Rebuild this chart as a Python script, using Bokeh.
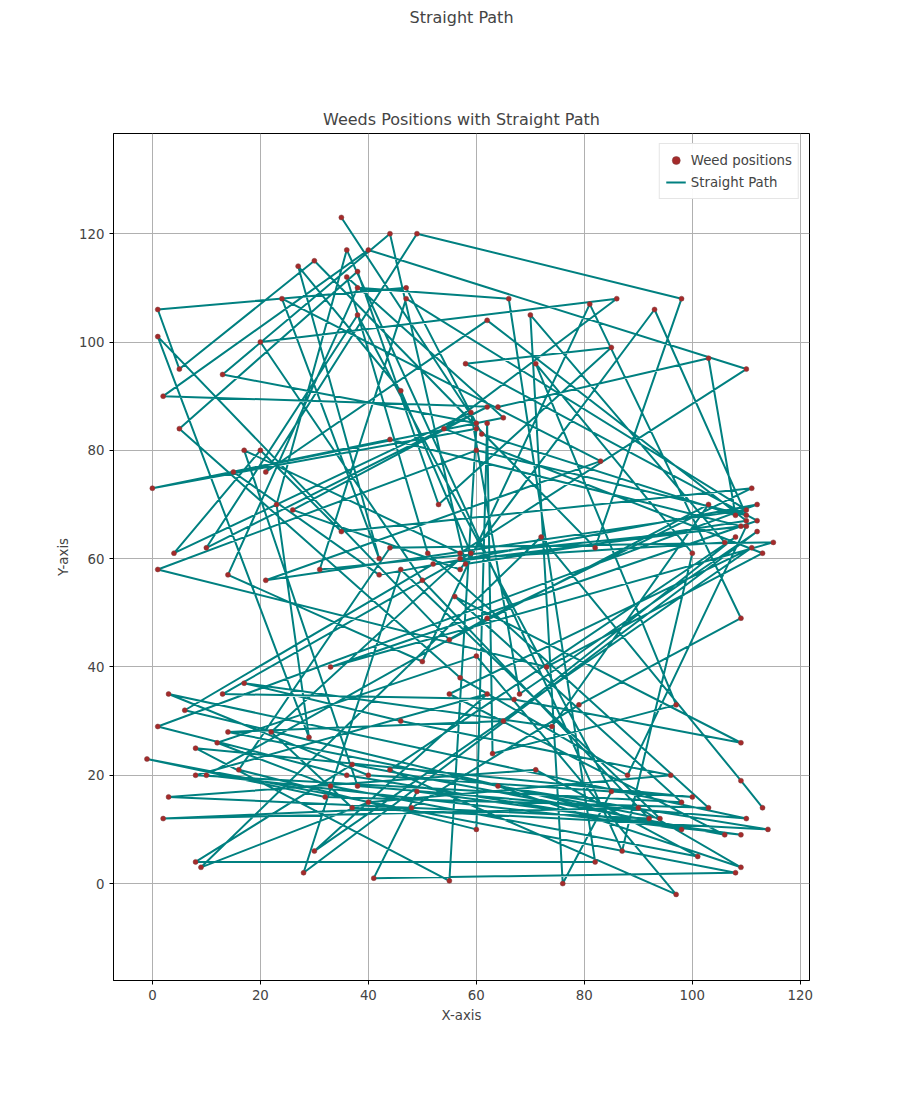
from bokeh.plotting import figure
from bokeh.models import Title, Legend, LegendItem
from bokeh.embed import file_html
from bokeh.resources import INLINE

# weed positions, in the order the path visits them
path_x = [35, 60, 13, 44, 58, 110, 62, 21, 49, 98, 82, 30, 5, 1, 47, 61, 108, 103, 64, 2,
          40, 110, 57, 17, 38, 110, 3, 40, 100, 8, 55, 60, 0, 44, 109, 52, 6, 98, 36, 1,
          112, 42, 15, 65, 36, 51, 103, 32, -1, 108, 41, 49, 109, 10, 62, 111, 35, 20, 4, 59,
          68, 112, 28, 46, 94, 14, 65, 108, 44, 97, 60, 12, 33, 101, 71, 3, 92, 50, 20, 86,
          54, 113, 73, 1, 60, 110, 93, 57, 26, 62, 10, 38, 85, 76, 70, 106, 57, 22, 37, 114,
          64, 109, 90, 2, 48, 79, 109, 81, 50, 14, 38, 66, 82, 8, 37, 106, 55, 111, 30, 62,
          8, 98, 56, 109, 67, 13, 59, 46, 27, 42, 24, 83, 21, 110, 47, 31, 110, 88, 57, 5,
          38, 53, 85, 58, 112, 33, 115, 44, 16, 60, 62, 63, 97, 71, 100, 87, 36, 23, 29, 1,
          55, 103, 74, 17, 46, 96, 40, 9, 72, 109, 113]
path_y = [123, 85, 94, 120, 59, 67, 104, 76, 120, 108, 62, 115, 95, 106, 110, 83, 68, 97, 88, 90,
          117, 95, 61, 80, 18, 12, 35, 20, 16, 25, 0.5, 84, 73, 82, 66, 59, 32, 10, 20, 29,
          70, 57, 76, 86, 112, 61, 14, 16, 23, 2, 1, 17, 9, 20, 49, 73, 65, 80, 61, 87,
          35, 65, 2, 58, 12, 28, 30, 64, 21, -2, 42, 26, 18, 5, 21, 16, 12, 56, 100, 108,
          84, 61, 40, 58, 80, 68, 106, 58, 69, 88, 62, 105, 17, 0, 105, 63, 60, 28, 14, 10,
          18, 3, 14, 12, 14, 33, 49, 107, 41, 57, 110, 108, 4, 4, 22, 9, 35, 62, 6, 35,
          20, 15, 53, 26, 34, 35, 61, 91, 114, 60, 108, 78, 56, 69, 108, 58, 66, 20, 38, 84,
          113, 70, 99, 96, 67, 40, 63, 62, 21, 10, 85, 24, 33, 96, 61, 6, 117, 70, 27, 101,
          45, 70, 29, 37, 30, 20, 15, 3, 64, 19, 14]

x_ticks = [0, 20, 40, 60, 80, 100, 120]
y_ticks = [0, 20, 40, 60, 80, 100, 120]

FONT = "DejaVu Sans"

p = figure(width=884, height=1080, output_backend="svg", toolbar_location=None,
           x_range=(-7.2, 121.7), y_range=(-17.9, 138.5),
           min_border_left=113, min_border_right=75, min_border_bottom=100,
           min_border_top=133)
p.title.text = "Straight Path"
p.title.align = "center"
p.title.text_font = FONT
p.title.text_font_size = "12pt"
p.title.text_font_style = "normal"

# panels added "above" stack outward from the plot
p.add_layout(Title(text="Weeds Positions with Straight Path", align="center", text_font=FONT,
                   text_font_size="12pt", text_font_style="normal"), "above")
p.add_layout(Title(text=" ", text_font_size="40pt"), "above")

line = p.line(path_x, path_y, line_color="#008080", line_width=2)
dots = p.scatter(path_x, path_y, size=5, fill_color="#a52a2a", line_color="#7a4040",
                 line_width=0.5)

for ax in (p.xaxis, p.yaxis):
    ax.major_label_text_font = FONT
    ax.major_label_text_font_size = "10pt"
    ax.axis_label_text_font = FONT
    ax.axis_label_text_font_size = "10pt"
    ax.axis_label_text_font_style = "normal"
    ax.minor_tick_line_color = None
    ax.major_tick_in = 0
    ax.major_tick_out = 4
p.xaxis.ticker = x_ticks
p.yaxis.ticker = y_ticks
p.xaxis.axis_label = "X-axis"
p.yaxis.axis_label = "Y-axis"

p.grid.grid_line_color = "#b0b0b0"
p.xgrid.ticker = x_ticks
p.ygrid.ticker = y_ticks
p.outline_line_color = "black"

legend = Legend(items=[LegendItem(label="Weed positions", renderers=[dots]),
                       LegendItem(label="Straight Path", renderers=[line])],
                location="top_right", label_text_font=FONT, label_text_font_size="10pt",
                border_line_color="#cccccc", spacing=2, padding=6)
p.add_layout(legend)

open("out.html", "w").write(file_html(p, INLINE))
